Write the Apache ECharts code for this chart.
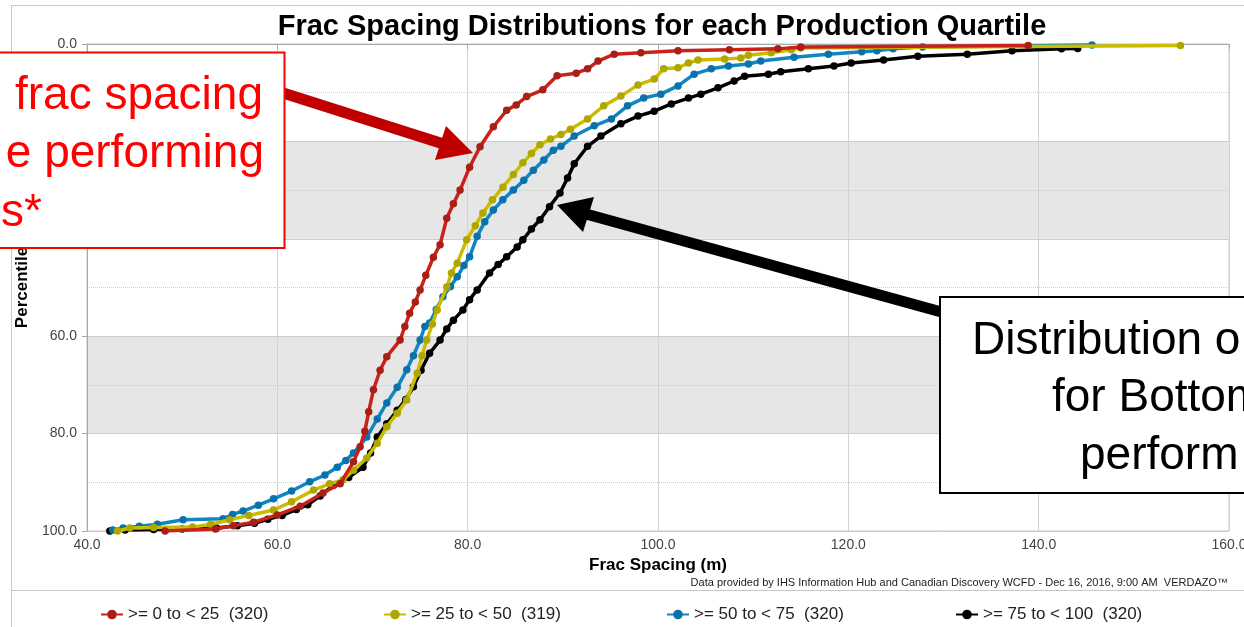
<!DOCTYPE html>
<html>
<head>
<meta charset="utf-8">
<script src="https://cdn.jsdelivr.net/npm/echarts@6/dist/echarts.min.js"></script>
<style>
html,body{margin:0;padding:0;background:#fff;}
#chart{width:1244px;height:627px;}
</style>
</head>
<body>
<div id="chart"></div>
<script>
// ---- data ----
const seriesNames = ['>= 0 to < 25  (320)', '>= 25 to < 50  (319)', '>= 50 to < 75  (320)', '>= 75 to < 100  (320)'];
const xTicks = [40, 60, 80, 100, 120, 140, 160];
const yTicks = [0, 20, 40, 60, 80, 100];

// Quartile 1 (red): frac spacing (m) and percentile
const q1Spacing = [48.2, 53.5, 55.4, 57.5, 60.0, 62.4, 64.8, 66.6, 68.0, 68.7, 69.2, 69.6, 70.1, 70.8, 71.5, 72.9, 73.4, 73.9, 74.5, 75.0, 75.6, 76.4, 77.1, 77.8, 78.5, 79.2, 80.2, 81.3, 82.7, 84.1, 85.1, 86.2, 87.9, 89.4, 91.4, 92.6, 93.7, 95.4, 98.2, 102.1, 107.5, 112.6, 115.0, 138.9];
const q1Pct     = [100, 99.6, 98.9, 98.2, 96.7, 94.9, 92.2, 90.3, 85.8, 82.7, 79.5, 75.5, 71.0, 67.0, 64.2, 60.8, 58.0, 55.3, 53.0, 50.5, 47.5, 43.8, 41.2, 35.8, 32.8, 30.0, 25.3, 21.1, 17.0, 13.6, 12.5, 10.8, 9.4, 6.5, 6.0, 5.1, 3.5, 2.1, 1.8, 1.4, 1.2, 1.0, 0.6, 0.3];

// Quartile 2 (yellow)
const q2Spacing = [43.2, 44.5, 47.0, 51.1, 53.0, 55.0, 57.0, 59.6, 61.5, 63.8, 65.5, 66.9, 68.0, 69.4, 70.5, 71.5, 72.6, 73.6, 74.7, 75.2, 75.7, 76.3, 76.8, 77.8, 78.3, 78.9, 79.9, 80.8, 81.6, 82.6, 83.7, 84.8, 85.8, 86.7, 87.6, 88.7, 89.8, 90.8, 92.6, 94.3, 96.1, 97.9, 99.6, 100.6, 102.1, 103.2, 104.2, 107.0, 108.7, 109.5, 111.9, 114.0, 115.0, 154.9];
const q2Pct     = [100, 99.4, 99.3, 99.2, 98.6, 97.7, 96.8, 95.7, 94.0, 91.6, 90.3, 89.5, 87.5, 85.0, 82.0, 78.6, 75.8, 73.1, 67.6, 64.0, 60.8, 57.5, 54.6, 49.9, 47.0, 45.0, 40.2, 37.3, 34.7, 32.0, 29.4, 26.8, 24.4, 22.5, 20.7, 19.5, 18.6, 17.5, 15.4, 12.7, 10.7, 8.4, 7.2, 5.1, 4.9, 3.9, 3.3, 3.1, 2.9, 2.3, 1.8, 1.2, 0.8, 0.3];

// Quartile 3 (blue)
const q3Spacing = [42.7, 43.8, 45.5, 47.4, 50.1, 54.3, 55.3, 56.4, 58.0, 59.6, 61.5, 63.4, 65.0, 66.3, 67.2, 68.0, 69.4, 70.5, 71.5, 72.6, 73.6, 74.3, 75.0, 75.5, 76.0, 76.7, 77.4, 78.2, 78.9, 79.6, 80.2, 81.0, 81.8, 82.7, 83.7, 84.8, 85.9, 86.9, 88.0, 89.0, 89.8, 91.2, 93.3, 95.1, 96.8, 98.5, 100.3, 102.1, 103.8, 105.6, 107.4, 109.5, 110.8, 114.3, 117.9, 121.4, 123.0, 124.7, 127.8, 145.6];
const q3Pct     = [99.8, 99.4, 99.0, 98.6, 97.7, 97.5, 96.6, 95.9, 94.7, 93.4, 91.8, 89.9, 88.5, 86.9, 85.5, 84.0, 80.7, 77.0, 73.7, 70.5, 66.9, 64.0, 60.8, 58.0, 57.3, 54.5, 51.9, 49.8, 47.8, 45.5, 43.7, 39.5, 36.5, 34.1, 32.0, 30.0, 28.0, 25.9, 23.8, 21.8, 21.0, 18.9, 16.8, 15.4, 12.7, 11.1, 10.3, 8.6, 6.2, 5.1, 4.5, 4.1, 3.5, 2.7, 2.1, 1.6, 1.4, 1.0, 0.6, 0.2];

// Quartile 4 (black)
const q4Spacing = [42.4, 44.0, 47.0, 50.0, 53.6, 55.8, 57.6, 59.0, 60.5, 62.0, 63.2, 64.5, 65.9, 67.5, 69.0, 69.8, 70.5, 71.5, 72.6, 73.5, 74.3, 75.1, 76.0, 77.1, 77.8, 78.5, 79.5, 80.2, 81.0, 82.3, 83.2, 84.1, 85.2, 85.8, 86.7, 87.6, 88.6, 89.7, 90.5, 91.2, 92.6, 94.0, 96.1, 97.9, 99.6, 101.4, 103.2, 104.5, 106.3, 108.0, 109.1, 111.6, 112.9, 115.8, 118.5, 120.3, 123.7, 127.3, 132.5, 137.2, 142.4, 144.1];
const q4Pct     = [100, 99.8, 99.7, 99.6, 99.4, 98.9, 98.4, 97.6, 96.8, 95.6, 94.6, 92.8, 90.6, 89.0, 86.9, 84.0, 80.7, 78.0, 75.2, 73.0, 70.4, 67.0, 63.5, 60.8, 58.5, 56.7, 54.6, 52.5, 50.5, 47.0, 45.3, 43.7, 41.7, 40.2, 38.0, 36.1, 33.4, 30.6, 27.5, 24.6, 21.0, 18.9, 16.4, 14.8, 13.8, 12.3, 11.1, 10.3, 9.0, 7.6, 6.6, 6.2, 5.7, 5.1, 4.5, 3.9, 3.3, 2.5, 2.1, 1.4, 1.0, 0.9];

// ---- build chart ----
const FONT = '"Liberation Sans", Arial, sans-serif';
const zip = (xs, ys) => xs.map((x, i) => [x, ys[i]]);
const seriesData = [zip(q1Spacing, q1Pct), zip(q2Spacing, q2Pct), zip(q3Spacing, q3Pct), zip(q4Spacing, q4Pct)];
const markerColors = ['#a81f16', '#b0a600', '#0a72aa', '#000000'];
const lineColors = ['#c8221a', '#cabd00', '#0f86c2', '#000000'];
const zOrder = [5, 4, 3, 2];
const legendLeft = [95, 378, 661, 950];

const chart = echarts.init(document.getElementById('chart'), null, {renderer: 'canvas'});

const series = seriesNames.map((name, i) => ({
  name: name,
  type: 'line',
  data: seriesData[i],
  symbol: 'circle',
  symbolSize: 7.5,
  showAllSymbol: true,
  z: zOrder[i],
  itemStyle: {color: markerColors[i], borderWidth: 0},
  lineStyle: {color: lineColors[i], width: 3.5},
  emphasis: {disabled: true},
  animation: false
}));

const legends = seriesNames.map((name, i) => ({
  data: [name],
  left: legendLeft[i],
  top: 601,
  itemWidth: 22,
  itemHeight: 12,
  itemGap: 4,
  selectedMode: false,
  textStyle: {fontFamily: FONT, fontSize: 17, color: '#222'}
}));

const greyLine = '#c8c8c8';
const option = {
  backgroundColor: '#ffffff',
  animation: false,
  textStyle: {fontFamily: FONT},
  title: {
    text: 'Frac Spacing Distributions for each Production Quartile',
    left: 657,
    textAlign: 'center',
    top: 7,
    textStyle: {fontFamily: FONT, fontSize: 29, fontWeight: 'bold', color: '#000'}
  },
  legend: legends,
  grid: {
    left: 87, right: 15, top: 44, bottom: 96,
    show: true, borderColor: '#c4c4c4', borderWidth: 1,
    containLabel: false,
    outerBoundsMode: 'none'
  },
  xAxis: {
    type: 'value',
    min: xTicks[0], max: xTicks[xTicks.length - 1], interval: 20,
    name: 'Frac Spacing (m)',
    nameLocation: 'middle',
    nameGap: 24,
    nameTextStyle: {fontFamily: FONT, fontSize: 17, fontWeight: 'bold', color: '#000'},
    axisLine: {show: true, lineStyle: {color: '#aaaaaa'}},
    axisTick: {show: true, length: 5, lineStyle: {color: '#aaaaaa'}},
    axisLabel: {fontFamily: FONT, fontSize: 14, color: '#444', margin: 7, formatter: v => v.toFixed(1)},
    splitLine: {show: true, lineStyle: {color: '#d2d2d2', width: 1}}
  },
  yAxis: {
    type: 'value',
    inverse: true,
    min: yTicks[0], max: yTicks[yTicks.length - 1], interval: 20,
    name: 'Percentile',
    nameLocation: 'middle',
    nameRotate: 90,
    nameGap: 48,
    nameTextStyle: {fontFamily: FONT, fontSize: 17, fontWeight: 'bold', color: '#000'},
    axisLine: {show: true, lineStyle: {color: '#aaaaaa'}},
    axisTick: {show: true, length: 5, lineStyle: {color: '#aaaaaa'}},
    axisLabel: {fontFamily: FONT, fontSize: 14, color: '#444', margin: 10, formatter: v => v.toFixed(1)},
    splitLine: {show: true, lineStyle: {color: '#cccccc', width: 1}},
    minorTick: {show: false, splitNumber: 2},
    minorSplitLine: {show: true, lineStyle: {color: '#cccccc', type: 'dotted', width: 1}},
    splitArea: {show: true, areaStyle: {color: ['rgba(255,255,255,0)', '#e6e6e6']}}
  },
  graphic: [
    // outer frame lines
    {type: 'line', z: 1, shape: {x1: 11, y1: 5.5, x2: 1244, y2: 5.5}, style: {stroke: greyLine, lineWidth: 1}},
    {type: 'line', z: 1, shape: {x1: 11.5, y1: 5, x2: 11.5, y2: 627}, style: {stroke: greyLine, lineWidth: 1}},
    {type: 'line', z: 1, shape: {x1: 11, y1: 590.5, x2: 1244, y2: 590.5}, style: {stroke: greyLine, lineWidth: 1}},
    // credit line
    {type: 'text', z: 10, x: 1228, y: 583,
      style: {text: 'Data provided by IHS Information Hub and Canadian Discovery WCFD - Dec 16, 2016, 9:00 AM  VERDAZO\u2122',
        font: '11px ' + FONT, fill: '#222', textAlign: 'right', textVerticalAlign: 'middle'}},
    // red arrow
    {type: 'line', z: 100, shape: {x1: 280, y1: 92, x2: 442, y2: 143.5}, style: {stroke: '#c00000', lineWidth: 11}},
    {type: 'polygon', z: 100, shape: {points: [[473, 153], [446, 126], [435, 160]]}, style: {fill: '#c00000'}},
    // red box
    {type: 'rect', z: 101, shape: {x: -10, y: 52.5, width: 294.5, height: 195.5}, style: {fill: '#ffffff', stroke: '#ff0000', lineWidth: 2}},
    {type: 'text', z: 102, x: 263, y: 96.5, style: {text: 'frac spacing', font: '46px ' + FONT, fill: '#ff0000', textAlign: 'right', textVerticalAlign: 'middle'}},
    {type: 'text', z: 102, x: 264, y: 154, style: {text: 'e performing', font: '46px ' + FONT, fill: '#ff0000', textAlign: 'right', textVerticalAlign: 'middle'}},
    {type: 'text', z: 102, x: 42, y: 213, style: {text: 's*', font: '46px ' + FONT, fill: '#ff0000', textAlign: 'right', textVerticalAlign: 'middle'}},
    // black arrow
    {type: 'line', z: 100, shape: {x1: 586, y1: 214, x2: 945, y2: 313}, style: {stroke: '#000000', lineWidth: 11}},
    {type: 'polygon', z: 100, shape: {points: [[557, 205], [594, 197], [583, 232]]}, style: {fill: '#000000'}},
    // black box
    {type: 'rect', z: 101, shape: {x: 940, y: 297, width: 400, height: 196}, style: {fill: '#ffffff', stroke: '#000000', lineWidth: 2}},
    {type: 'text', z: 102, x: 972, y: 341.5, style: {text: 'Distribution o', font: '46px ' + FONT, fill: '#000', textAlign: 'left', textVerticalAlign: 'middle'}},
    {type: 'text', z: 102, x: 1052, y: 398.5, style: {text: 'for Bottom', font: '46px ' + FONT, fill: '#000', textAlign: 'left', textVerticalAlign: 'middle'}},
    {type: 'text', z: 102, x: 1080, y: 456.5, style: {text: 'perform', font: '46px ' + FONT, fill: '#000', textAlign: 'left', textVerticalAlign: 'middle'}}
  ],
  series: series
};
chart.setOption(option);
</script>
</body>
</html>
